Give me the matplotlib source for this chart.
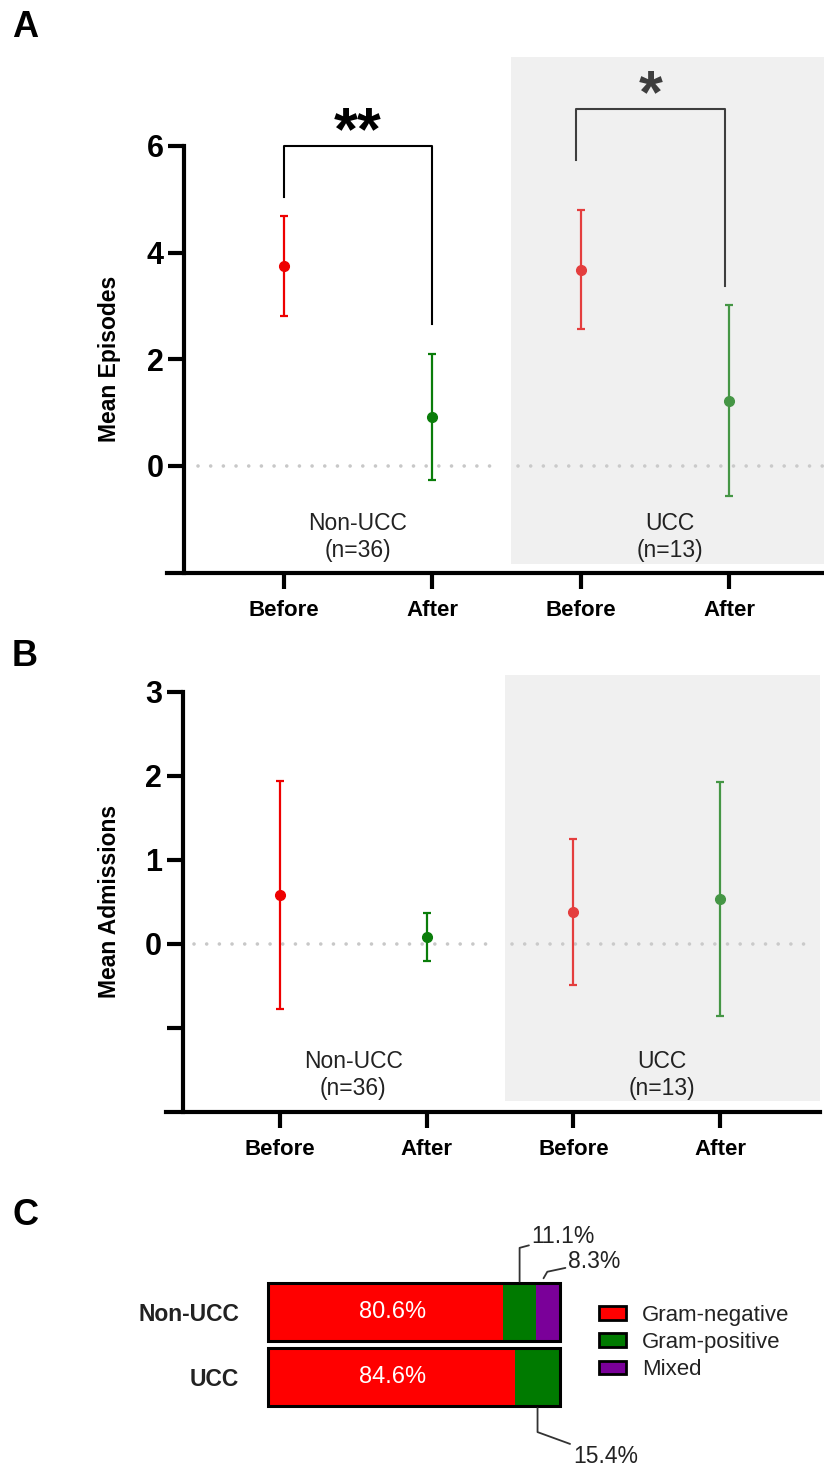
import matplotlib

matplotlib.use("Agg")
import matplotlib.pyplot as plt  # noqa: E402
from matplotlib.patches import Patch  # noqa: E402

plt.rcParams["font.family"] = ["Liberation Sans", "DejaVu Sans"]
NARROW = ["Liberation Sans Narrow", "Liberation Sans", "DejaVu Sans"]
INK = "#222222"

# --------------------------------------------------------------------------- #
# Data
# --------------------------------------------------------------------------- #

time_labels = ["Before", "After", "Before", "After"]
positions = [0, 1, 2, 3]
point_colors = ["#ee0000", "#0a7d0a", "#ee0000", "#0a7d0a"]
group_names = ["Non-UCC\n(n=36)", "UCC\n(n=13)"]
group_centres = [0.5, 2.6]

episodes_mean = [3.75, 0.91, 3.68, 1.22]
episodes_err = [0.94, 1.18, 1.11, 1.79]

admissions_mean = [0.58, 0.08, 0.38, 0.53]
admissions_err = [1.36, 0.28, 0.87, 1.39]

# significance brackets for panel A: (left, right), top, leg ends, label
bracket_pairs = [(0, 1), (1.97, 2.97)]
bracket_tops = [6.0, 6.70]
bracket_left_ends = [5.04, 5.73]
bracket_right_ends = [2.67, 3.37]
bracket_labels = ["**", "*"]

# panel C: organism class share (%)
c_categories = ["Non-UCC", "UCC"]
gram_negative = [80.6, 84.6]
gram_positive = [11.1, 15.4]
mixed = [8.3, 0.0]
c_colors = {"Gram-negative": "#ff0000", "Gram-positive": "#007a00", "Mixed": "#7a0099"}

# --------------------------------------------------------------------------- #
# Figure
# --------------------------------------------------------------------------- #

W, H = 824, 1467
fig = plt.figure(figsize=(W / 100, H / 100), dpi=100)
fig.patch.set_facecolor("white")


def px_box(left, top, right, bottom):
    """Pixel box -> figure-fraction [l, b, w, h]."""
    return [left / W, 1 - bottom / H, (right - left) / W, (bottom - top) / H]


def draw_panel(ax, means, errs, ylim, xlim, spine_x, yticks, yticklabels,
               ylabel, ylabel_y, group_y, shade_from, dots):
    ax.set_xlim(*xlim)
    ax.set_ylim(*ylim)
    for s in ("top", "right"):
        ax.spines[s].set_visible(False)
    ax.spines["left"].set_position(("data", spine_x))
    ax.spines["left"].set_bounds(ylim[0], yticks[0])
    for s in ("left", "bottom"):
        ax.spines[s].set_linewidth(3)
    ax.tick_params(axis="both", direction="out", length=11.5, width=3)
    ax.tick_params(axis="y", pad=3.5, labelsize=22)
    ax.tick_params(axis="x", pad=8.5, labelsize=16)
    ax.set_yticks(yticks)
    ax.set_yticklabels(yticklabels, fontweight="bold")
    ax.set_xticks(positions)
    ax.set_xticklabels(time_labels, fontweight="bold")

    # dotted zero reference, broken between the two groups
    for x0, x1 in dots:
        ax.plot([x0, x1], [0, 0], color="#c8c8c8", lw=2.6,
                linestyle=(0, (0.01, 3.5)), dash_capstyle="round", zorder=1)

    for x, m, e, c in zip(positions, means, errs, point_colors):
        ax.errorbar(x, m, yerr=e, fmt="o", color=c, ms=7, lw=1.6,
                    capsize=3, capthick=1.6, zorder=3, clip_on=False)

    for name, cx in zip(group_names, group_centres):
        ax.text(cx, group_y, name, ha="center", va="center", fontsize=16.5,
                family=NARROW, color=INK, linespacing=1.2, zorder=8)

    # grey shading over the UCC group
    span = ylim[1] - ylim[0]
    ax.axvspan(shade_from[0], xlim[1], ymin=(shade_from[1] - ylim[0]) / span,
               ymax=1, color="#d0d0d0", alpha=0.3, lw=0, zorder=6)

    ax.set_ylabel(ylabel, fontsize=16.5, fontweight="bold")
    ax.yaxis.set_label_coords(-0.069, (ylabel_y - ylim[0]) / span)


# Panel A
ax_a = fig.add_axes(px_box(166.7, 57.3, 824, 572.7))
draw_panel(ax_a, episodes_mean, episodes_err, (-2, 7.66), (-0.788, 3.64), -0.669,
           [6, 4, 2, 0], ["6", "4", "2", "0"], "Mean Episodes", 2.0, -1.33,
           (1.53, -1.83), [(-0.58, 1.41), (1.58, 3.64)])

for (x0, x1), top, le, re, lab in zip(bracket_pairs, bracket_tops, bracket_left_ends,
                                       bracket_right_ends, bracket_labels):
    ax_a.plot([x0, x0, x1, x1], [le, top, top, re], color="black", lw=1.5, zorder=2)
    ax_a.text((x0 + x1) / 2, top - 0.06, lab, ha="center", va="baseline",
              fontsize=44, fontweight="bold", color="black", zorder=2)

# Panel B
ax_b = fig.add_axes(px_box(166, 674.9, 820, 1111.7))
draw_panel(ax_b, admissions_mean, admissions_err, (-2, 3.2), (-0.777, 3.68), -0.663,
           [3, 2, 1, 0, -1], ["3", "2", "1", "0", ""], "Mean Admissions", 0.5, -1.56,
           (1.53, -1.87), [(-0.586, 1.42), (1.58, 3.61)])

# Panel C
ax_c = fig.add_axes(px_box(268.3, 1279.6, 560, 1409.4))
ax_c.set_xlim(0, 100)
ax_c.set_ylim(1.5, -0.5)
rows = list(range(len(c_categories)))
bar_h = 0.88
neg_pos = [a + b for a, b in zip(gram_negative, gram_positive)]
totals = [a + b for a, b in zip(neg_pos, mixed)]
ax_c.barh(rows, gram_negative, height=bar_h, color=c_colors["Gram-negative"], lw=0)
ax_c.barh(rows, gram_positive, left=gram_negative, height=bar_h,
          color=c_colors["Gram-positive"], lw=0)
ax_c.barh(rows, mixed, left=neg_pos, height=bar_h, color=c_colors["Mixed"], lw=0)
ax_c.barh(rows, totals, height=bar_h, fill=False, edgecolor="black", lw=2.2,
          clip_on=False)
for r, v in zip(rows, gram_negative):
    ax_c.text(42.5, r, f"{v}%", ha="center", va="center", color="white", fontsize=17)

for s in ax_c.spines.values():
    s.set_visible(False)
ax_c.set_xticks([])
ax_c.set_yticks(rows)
ax_c.set_yticklabels(c_categories, fontweight="bold", fontsize=16.5, color=INK)
ax_c.tick_params(axis="y", length=0, pad=21)

# leader-line labels for the small segments
small_labels = [
    (gram_positive[0], gram_negative[0] + gram_positive[0] / 2, -0.47, 90.3, -1.17, 15, 90),
    (mixed[0], neg_pos[0] + mixed[0] / 2 - 1.5, -0.52, 102.8, -0.775, 12, 60),
    (gram_positive[1], gram_negative[1] + gram_positive[1] / 2, 1.48, 104.4, 2.23, 160, 90),
]
for val, xv, yv, tx, ty, a_a, a_b in small_labels:
    ax_c.annotate(f"{val}%", xy=(xv, yv), xytext=(tx, ty), ha="left", va="center",
                  fontsize=16.5, color=INK, annotation_clip=False,
                  arrowprops=dict(arrowstyle="-", color="#333333", lw=1.3, shrinkA=0,
                                  shrinkB=0,
                                  connectionstyle=f"angle,angleA={a_a},angleB={a_b},rad=0"))

handles = [Patch(facecolor=c, edgecolor="black", linewidth=2, label=k)
           for k, c in c_colors.items()]
leg = fig.legend(handles=handles, loc="center left",
                 bbox_to_anchor=(599 / W, 1 - 1342.7 / H), frameon=False,
                 fontsize=16, handlelength=1.2, handleheight=0.58,
                 handletextpad=0.75, labelspacing=0.28, borderpad=0,
                 borderaxespad=0)
for t in leg.get_texts():
    t.set_color(INK)

# panel letters
for letter, base in (("A", 37.3), ("B", 666), ("C", 1225)):
    fig.text(12 / W, 1 - base / H, letter, fontsize=26, fontweight="bold",
             va="baseline", ha="left")

fig.savefig("out.png", dpi=100, facecolor="white")
